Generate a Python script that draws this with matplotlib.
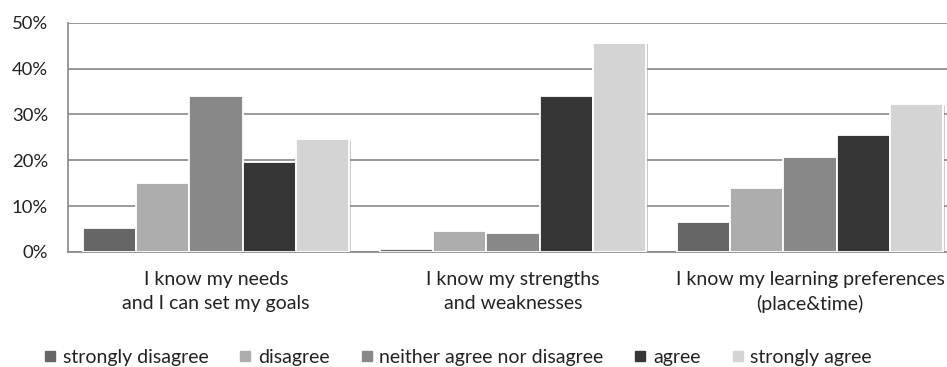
import matplotlib
matplotlib.use("Agg")
import matplotlib.pyplot as plt
import numpy as np
from matplotlib.lines import Line2D
import matplotlib.patheffects as pe

categories = ["I know my needs\nand I can set my goals",
              "I know my strengths\nand weaknesses",
              "I know my learning preferences\n(place&time)"]
series = ["strongly disagree", "disagree", "neither agree nor disagree", "agree", "strongly agree"]
strongly_disagree = [5.3, 0.7, 6.6]
disagree = [15.0, 4.6, 14.0]
neither = [34.0, 4.1, 20.8]
agree = [19.6, 34.0, 25.5]
strongly_agree = [24.6, 45.6, 32.2]
values = [strongly_disagree, disagree, neither, agree, strongly_agree]
colors = ["#666666", "#adadad", "#888888", "#363636", "#d4d4d4"]
yticks = [0, 10, 20, 30, 40, 50]
ytick_labels = ["0%", "10%", "20%", "30%", "40%", "50%"]

plt.rcParams['font.family'] = ['Lato', 'DejaVu Sans']

W, H = 947, 367
fig = plt.figure(figsize=(W / 100, H / 100), dpi=100)
left, right, top, bottom = 67.5, 958.5, 22.7, 252.0
ax = fig.add_axes([left / W, 1 - bottom / H, (right - left) / W, (bottom - top) / H])

x = np.arange(len(categories))
w = 0.1792
for j, (name, vals, c) in enumerate(zip(series, values, colors)):
    bars = ax.bar(x + (j - 2) * w, vals, width=w, color=c, edgecolor="white",
                  linewidth=1.3, zorder=3, label=name)
    for b in bars:
        b.set_path_effects([pe.SimplePatchShadow(offset=(1.2, -1), shadow_rgbFace="#999999", alpha=0.5),
                            pe.Normal()])

ax.set_xlim(-0.5, 2.5)
ax.set_ylim(0, 50)
ax.set_yticks(yticks)
ax.set_yticklabels(ytick_labels)
ax.yaxis.grid(True, color="#878787", linewidth=1.2, zorder=0)
ax.set_axisbelow(True)
for s in ["top", "right"]:
    ax.spines[s].set_visible(False)
ax.spines["left"].set_color("#878787")
ax.spines["left"].set_linewidth(1.2)
ax.spines["bottom"].set_color("#878787")
ax.spines["bottom"].set_linewidth(1.2)
ax.tick_params(axis="y", length=0, pad=14, labelsize=13.3, labelcolor="#222222")
ax.tick_params(axis="x", length=0, pad=13.5, labelsize=14, labelcolor="#222222")
ax.set_xticks(x)
ax.set_xticklabels(categories, linespacing=1.5)

handles = [Line2D([0], [0], marker="s", linestyle="none", markersize=7,
                  markerfacecolor=c, markeredgecolor=c) for c in colors]
fig.legend(handles, series, loc="center", bbox_to_anchor=(458 / W, 1 - 357 / H),
           ncol=5, frameon=False, fontsize=14, handlelength=0.6, handletextpad=0.35,
           columnspacing=1.6, borderpad=0, labelcolor="#222222")

fig.savefig("out.png", dpi=100)
